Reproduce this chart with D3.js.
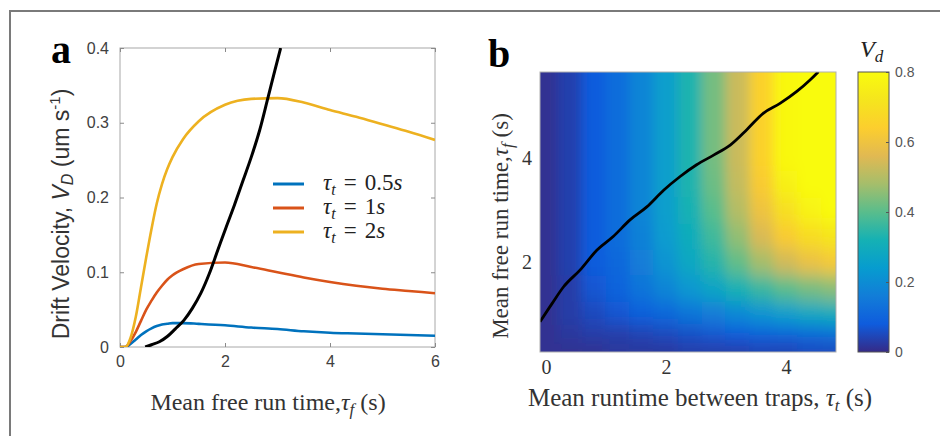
<!DOCTYPE html>
<html>
<head>
<meta charset="utf-8">
<script src="https://cdn.jsdelivr.net/npm/d3@7"></script>
<style>
  body { margin: 0; background: #fff; }
  svg { display: block; }
</style>
</head>
<body>
<svg id="chart" width="940" height="436"></svg>
<script>
// =========================
// DADES (llegides de la figura)
// =========================

// panell a: Vd en funcio de tau_f per tres tau_t
const tauF = [0, 0.1, 0.2, 0.3, 0.4, 0.5, 0.6, 0.7, 0.8, 0.9, 1.0, 1.2, 1.5, 2.0, 2.5, 3.0, 3.5, 4.0, 4.5, 5.0, 5.5, 6.0];
const vdTau05 = [0, 0, 0.004, 0.010, 0.016, 0.021, 0.025, 0.028, 0.030, 0.031, 0.032, 0.032, 0.031, 0.029, 0.026, 0.024, 0.021, 0.019, 0.018, 0.017, 0.016, 0.015];
const vdTau1 = [0, 0, 0.008, 0.020, 0.035, 0.050, 0.062, 0.073, 0.082, 0.090, 0.096, 0.104, 0.111, 0.113, 0.107, 0.100, 0.093, 0.087, 0.082, 0.078, 0.075, 0.072];
const vdTau2 = [0, 0, 0.012, 0.040, 0.080, 0.120, 0.158, 0.192, 0.218, 0.238, 0.254, 0.278, 0.302, 0.324, 0.332, 0.333, 0.327, 0.317, 0.308, 0.298, 0.288, 0.277];

const seriesNames = ["0.5", "1", "2"];
const seriesColors = ["#0072BD", "#D95319", "#EDB120"];

// linia negra (maxims) del panell a
const peakTauF = [0.48, 0.6, 0.75, 0.9, 1.05, 1.22, 1.38, 1.54, 1.7, 1.86, 2.02, 2.18, 2.34, 2.5, 2.66, 2.82, 2.95, 3.06];
const peakVd = [0.0, 0.003, 0.007, 0.014, 0.024, 0.036, 0.052, 0.072, 0.098, 0.129, 0.16, 0.19, 0.222, 0.254, 0.29, 0.334, 0.37, 0.4];

// panell b: mapa Vd(tau_t, tau_f)
const mapTauT = [0, 0.4, 0.8, 1.2, 1.6, 2.0, 2.4, 2.8, 3.2, 3.6, 4.0, 4.4, 4.8];
const mapTauF = [0.3, 0.6, 1.0, 1.5, 2.0, 2.5, 3.0, 3.5, 4.0, 4.5, 5.0, 5.6];
const mapVd = [
  [0.01, 0.01, 0.01, 0.02, 0.02, 0.02, 0.03, 0.03, 0.03, 0.04, 0.04, 0.05, 0.05],
  [0.01, 0.02, 0.03, 0.03, 0.04, 0.05, 0.06, 0.07, 0.08, 0.09, 0.10, 0.11, 0.12],
  [0.01, 0.03, 0.05, 0.07, 0.09, 0.11, 0.14, 0.16, 0.19, 0.22, 0.25, 0.28, 0.30],
  [0.01, 0.03, 0.07, 0.10, 0.14, 0.18, 0.23, 0.27, 0.32, 0.36, 0.40, 0.43, 0.45],
  [0.01, 0.035, 0.08, 0.11, 0.16, 0.22, 0.28, 0.34, 0.41, 0.48, 0.54, 0.59, 0.62],
  [0.01, 0.035, 0.08, 0.12, 0.17, 0.24, 0.30, 0.37, 0.46, 0.55, 0.63, 0.69, 0.72],
  [0.01, 0.035, 0.08, 0.12, 0.18, 0.25, 0.32, 0.40, 0.50, 0.60, 0.70, 0.77, 0.80],
  [0.01, 0.035, 0.08, 0.12, 0.18, 0.25, 0.33, 0.42, 0.52, 0.63, 0.76, 0.84, 0.88],
  [0.01, 0.035, 0.08, 0.12, 0.18, 0.25, 0.33, 0.43, 0.53, 0.65, 0.79, 0.90, 0.98],
  [0.01, 0.035, 0.08, 0.12, 0.18, 0.25, 0.33, 0.43, 0.53, 0.65, 0.79, 0.90, 0.98],
  [0.01, 0.035, 0.08, 0.12, 0.18, 0.25, 0.33, 0.43, 0.53, 0.65, 0.79, 0.90, 0.98],
  [0.01, 0.035, 0.08, 0.12, 0.18, 0.25, 0.33, 0.43, 0.53, 0.65, 0.79, 0.90, 0.98]
];

// linia negra del panell b
const ridgeTauT = [-0.1, 0.1, 0.29, 0.57, 0.85, 1.12, 1.4, 1.68, 1.96, 2.23, 2.51, 2.8, 3.07, 3.35, 3.62, 3.9, 4.18, 4.4, 4.54];
const ridgeTauF = [0.85, 1.2, 1.52, 1.85, 2.23, 2.49, 2.81, 3.06, 3.38, 3.64, 3.87, 4.06, 4.25, 4.55, 4.86, 5.05, 5.28, 5.5, 5.66];

// ticks
const aXTicks = [0, 2, 4, 6];
const aYTicks = [0, 0.1, 0.2, 0.3, 0.4];
const bXTicks = [0, 2, 4];
const bYTicks = [2, 4];
const cbTicks = [0, 0.2, 0.4, 0.6, 0.8];

// parula (aprox.)
const parulaColors = ["#352A87", "#0F5CDD", "#127DD8", "#079CCF", "#15B1B4", "#59BD8C", "#A5BE6B", "#E1B952", "#FCCE2E", "#F5E51D", "#F9FB0E"];


// =========================
// SETUP
// =========================

const svg = d3.select("#chart");
const defs = svg.append("defs");

const SANS = "'Liberation Sans', Arial, sans-serif";
const SERIF = "'Liberation Serif', 'Times New Roman', serif";

// marc exterior (esquerra i dalt)
svg.append("path")
  .attr("d", "M10,436 L10,11 L940,11")
  .attr("fill", "none")
  .attr("stroke", "#7a7a7a")
  .attr("stroke-width", 2);

function styleAxis(g, fontSize, family, color) {
  g.select(".domain").remove();
  g.selectAll(".tick line").attr("stroke", "#8a8a8a");
  g.selectAll(".tick text")
    .style("font-family", family)
    .style("font-size", fontSize + "px")
    .attr("fill", color);
}

// text amb tau i subindex
function tauText(sel, before, sub, after, subSize) {
  sel.append("tspan").text(before);
  sel.append("tspan").style("font-style", "italic").text("τ");
  sel.append("tspan").style("font-style", "italic").style("font-size", subSize + "px").attr("dy", 5).text(sub);
  sel.append("tspan").attr("dy", -5).text(after);
}


// =========================
// PANELL A
// =========================

const xa = d3.scaleLinear().domain([0, 6]).range([120, 435]);
const ya = d3.scaleLinear().domain([0, 0.4]).range([347, 48]);

defs.append("clipPath").attr("id", "clip-a")
  .append("rect")
  .attr("x", 120).attr("y", 48)
  .attr("width", 315).attr("height", 299);

const gA = svg.append("g");

gA.append("rect")
  .attr("x", 120).attr("y", 48)
  .attr("width", 315).attr("height", 299)
  .attr("fill", "#fff")
  .attr("stroke", "#a8a8a8")
  .attr("stroke-width", 1);

gA.append("g")
  .attr("transform", "translate(0,347)")
  .call(d3.axisBottom(xa).tickValues(aXTicks).tickSize(-4).tickPadding(9).tickFormat(d => d))
  .call(g => styleAxis(g, 16, SANS, "#404040"));

gA.append("g")
  .attr("transform", "translate(0,48)")
  .call(d3.axisTop(xa).tickValues(aXTicks).tickSize(-4).tickFormat(""))
  .call(g => styleAxis(g, 16, SANS, "#404040"));

gA.append("g")
  .attr("transform", "translate(120,0)")
  .call(d3.axisLeft(ya).tickValues(aYTicks).tickSize(-4).tickPadding(11).tickFormat(d => d))
  .call(g => styleAxis(g, 16, SANS, "#404040"));

gA.append("g")
  .attr("transform", "translate(435,0)")
  .call(d3.axisRight(ya).tickValues(aYTicks).tickSize(-4).tickFormat(""))
  .call(g => styleAxis(g, 16, SANS, "#404040"));

const lineA = d3.line()
  .x(d => xa(d[0]))
  .y(d => ya(d[1]))
  .curve(d3.curveMonotoneX);

const seriesA = [vdTau05, vdTau1, vdTau2];
const plotA = gA.append("g").attr("clip-path", "url(#clip-a)");

seriesA.forEach((vals, i) => {
  plotA.append("path")
    .datum(tauF.map((t, j) => [t, vals[j]]))
    .attr("d", lineA)
    .attr("fill", "none")
    .attr("stroke", seriesColors[i])
    .attr("stroke-width", 2.6);
});

plotA.append("path")
  .datum(peakTauF.map((t, j) => [t, peakVd[j]]))
  .attr("d", lineA)
  .attr("fill", "none")
  .attr("stroke", "#000")
  .attr("stroke-width", 3);

// llegenda
const legend = gA.append("g");
seriesNames.forEach((name, i) => {
  const yy = 184 + i * 24;
  legend.append("line")
    .attr("x1", 273).attr("x2", 304)
    .attr("y1", yy).attr("y2", yy)
    .attr("stroke", seriesColors[i])
    .attr("stroke-width", 3);
  const t = legend.append("text")
    .attr("x", 323).attr("y", yy + 6)
    .style("font-family", SERIF)
    .style("font-size", "23px")
    .attr("fill", "#222");
  t.append("tspan").style("font-style", "italic").text("τ");
  t.append("tspan").style("font-style", "italic").style("font-size", "16px").attr("dy", 5).text("t");
  t.append("tspan").attr("dy", -5).attr("dx", 8).text("=");
  t.append("tspan").attr("dx", 8).text(name);
  t.append("tspan").style("font-style", "italic").text("s");
});

// etiquetes panell a
svg.append("text")
  .attr("x", 51).attr("y", 63)
  .style("font-family", SERIF)
  .style("font-size", "40px")
  .style("font-weight", "bold")
  .text("a");

const ylabA = svg.append("text")
  .attr("transform", "translate(69,214) rotate(-90)")
  .attr("text-anchor", "middle")
  .style("font-family", SANS)
  .style("font-size", "23px")
  .attr("fill", "#333");
ylabA.append("tspan").text("Drift Velocity, ");
ylabA.append("tspan").style("font-style", "italic").text("V");
ylabA.append("tspan").style("font-style", "italic").style("font-size", "16px").attr("dy", 4).text("D");
ylabA.append("tspan").attr("dy", -4).text(" (um s");
ylabA.append("tspan").style("font-size", "15px").attr("dy", -9).text("-1");
ylabA.append("tspan").attr("dy", 9).text(")");

const xlabA = svg.append("text")
  .attr("x", 268).attr("y", 410)
  .attr("text-anchor", "middle")
  .style("font-family", SERIF)
  .style("font-size", "24px")
  .attr("fill", "#333");
tauText(xlabA, "Mean free run time,", "f", " (s)", 17);


// =========================
// PANELL B
// =========================

const xb = d3.scaleLinear().domain([-0.1, 4.833]).range([540, 836]);
const yb = d3.scaleLinear().domain([0.27, 5.654]).range([352, 72]);

const parula = d3.scaleLinear()
  .domain(parulaColors.map((c, i) => 0.8 * i / (parulaColors.length - 1)))
  .range(parulaColors)
  .clamp(true);

defs.append("clipPath").attr("id", "clip-b")
  .append("rect")
  .attr("x", 540).attr("y", 72)
  .attr("width", 296).attr("height", 280);

const smooth = defs.append("filter")
  .attr("id", "smooth")
  .attr("filterUnits", "userSpaceOnUse")
  .attr("x", 480).attr("y", 20)
  .attr("width", 420).attr("height", 400);
smooth.append("feGaussianBlur").attr("stdDeviation", "6 9");

// vores de cel.la (punts mitjos entre valors), les de fora estirades
function edges(vals, scale, pad) {
  const px = vals.map(scale);
  const dir = Math.sign(px[1] - px[0]);
  const e = [];
  for (let i = 0; i <= px.length; i++) {
    if (i === 0) e.push(px[0] - (px[1] - px[0]) / 2 - pad * dir);
    else if (i === px.length) e.push(px[i - 1] + (px[i - 1] - px[i - 2]) / 2 + pad * dir);
    else e.push((px[i - 1] + px[i]) / 2);
  }
  return e;
}

const colEdges = edges(mapTauT, xb, 30);
const rowEdges = edges(mapTauF, yb, 30);

const cells = [];
mapVd.forEach((row, r) => {
  row.forEach((v, c) => {
    cells.push({ r, c, v });
  });
});

const gB = svg.append("g");
gB.append("g")
  .attr("clip-path", "url(#clip-b)")
  .append("g")
  .attr("filter", "url(#smooth)")
  .selectAll("rect")
  .data(cells)
  .enter()
  .append("rect")
  .attr("x", d => Math.min(colEdges[d.c], colEdges[d.c + 1]) - 0.5)
  .attr("width", d => Math.abs(colEdges[d.c + 1] - colEdges[d.c]) + 1)
  .attr("y", d => Math.min(rowEdges[d.r], rowEdges[d.r + 1]) - 0.5)
  .attr("height", d => Math.abs(rowEdges[d.r + 1] - rowEdges[d.r]) + 1)
  .attr("fill", d => parula(d.v));

gB.append("path")
  .datum(ridgeTauT.map((t, j) => [t, ridgeTauF[j]]))
  .attr("clip-path", "url(#clip-b)")
  .attr("d", d3.line().x(d => xb(d[0])).y(d => yb(d[1])).curve(d3.curveMonotoneX))
  .attr("fill", "none")
  .attr("stroke", "#000")
  .attr("stroke-width", 2.8);

gB.append("rect")
  .attr("x", 540).attr("y", 72)
  .attr("width", 296).attr("height", 280)
  .attr("fill", "none")
  .attr("stroke", "#b0b0b0")
  .attr("stroke-width", 1);

gB.append("g")
  .attr("transform", "translate(0,352)")
  .call(d3.axisBottom(xb).tickValues(bXTicks).tickSize(0).tickPadding(8).tickFormat(d => d))
  .call(g => styleAxis(g, 20, SERIF, "#333"));

gB.append("g")
  .attr("transform", "translate(540,0)")
  .call(d3.axisLeft(yb).tickValues(bYTicks).tickSize(0).tickPadding(8).tickFormat(d => d))
  .call(g => styleAxis(g, 20, SERIF, "#333"));

svg.append("text")
  .attr("x", 488).attr("y", 67)
  .style("font-family", SERIF)
  .style("font-size", "40px")
  .style("font-weight", "bold")
  .text("b");

const ylabB = svg.append("text")
  .attr("transform", "translate(508,226) rotate(-90)")
  .attr("text-anchor", "middle")
  .style("font-family", SERIF)
  .style("font-size", "23px")
  .attr("fill", "#333");
tauText(ylabB, "Mean free run time,", "f", " (s)", 17);

const xlabB = svg.append("text")
  .attr("x", 700).attr("y", 406)
  .attr("text-anchor", "middle")
  .style("font-family", SERIF)
  .style("font-size", "25px")
  .attr("fill", "#333");
tauText(xlabB, "Mean runtime between traps, ", "t", " (s)", 17);


// =========================
// BARRA DE COLOR
// =========================

const yc = d3.scaleLinear().domain([0, 0.8]).range([352, 72]);

const grad = defs.append("linearGradient")
  .attr("id", "cb-grad")
  .attr("x1", "0%").attr("x2", "0%")
  .attr("y1", "100%").attr("y2", "0%");

grad.selectAll("stop")
  .data(parulaColors)
  .enter()
  .append("stop")
  .attr("offset", (d, i) => (100 * i / (parulaColors.length - 1)) + "%")
  .attr("stop-color", d => d);

svg.append("rect")
  .attr("x", 858).attr("y", 72)
  .attr("width", 31).attr("height", 280)
  .attr("fill", "url(#cb-grad)")
  .attr("stroke", "#555")
  .attr("stroke-width", 1);

svg.append("g")
  .attr("transform", "translate(889,0)")
  .call(d3.axisRight(yc).tickValues(cbTicks).tickSize(-3).tickPadding(6).tickFormat(d => d))
  .call(g => styleAxis(g, 14, SANS, "#555"))
  .call(g => g.selectAll(".tick line").attr("stroke", "#555"));

const cbTitle = svg.append("text")
  .attr("x", 860).attr("y", 57)
  .style("font-family", SERIF)
  .style("font-size", "24px")
  .attr("fill", "#222");
cbTitle.append("tspan").style("font-style", "italic").text("V");
cbTitle.append("tspan").style("font-style", "italic").style("font-size", "17px").attr("dy", 5).text("d");
</script>
</body>
</html>
